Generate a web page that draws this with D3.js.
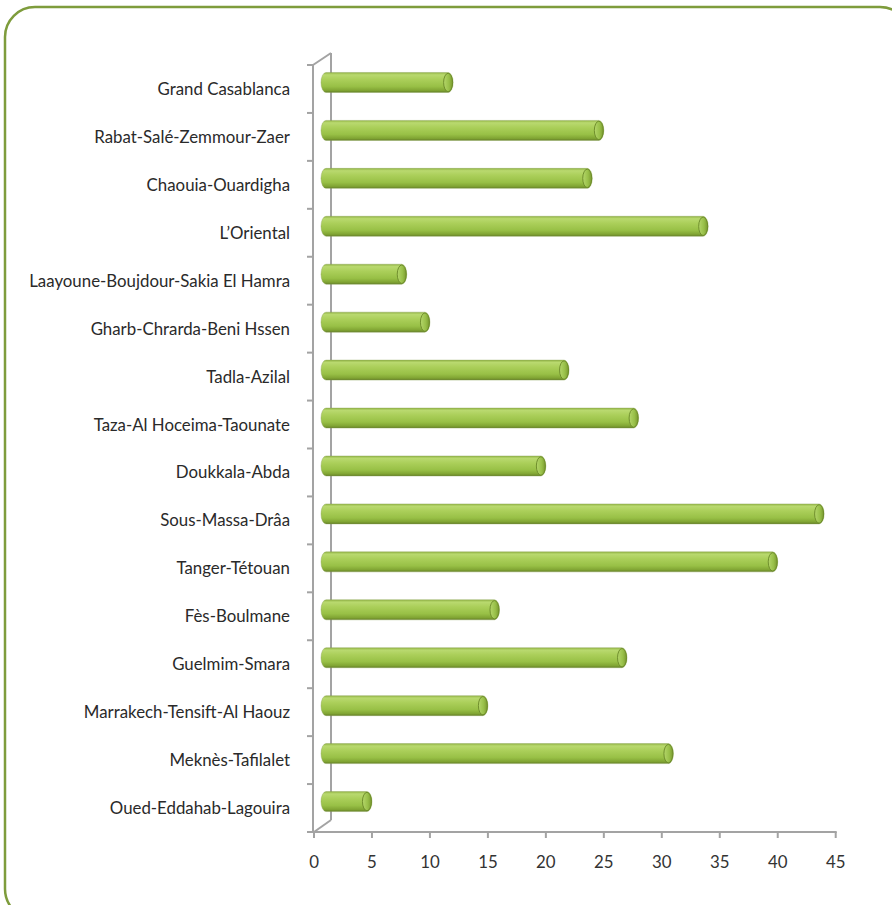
<!DOCTYPE html>
<html><head><meta charset="utf-8">
<script src="https://cdn.jsdelivr.net/npm/d3@7/dist/d3.min.js"></script>
<style>html,body{margin:0;padding:0;background:#fff;}svg{display:block;}</style>
</head><body>
<svg id="chart" width="892" height="905"></svg>
<script>
const categories = ["Grand Casablanca","Rabat-Salé-Zemmour-Zaer","Chaouia-Ouardigha","L’Oriental","Laayoune-Boujdour-Sakia El Hamra","Gharb-Chrarda-Beni Hssen","Tadla-Azilal","Taza-Al Hoceima-Taounate","Doukkala-Abda","Sous-Massa-Drâa","Tanger-Tétouan","Fès-Boulmane","Guelmim-Smara","Marrakech-Tensift-Al Haouz","Meknès-Tafilalet","Oued-Eddahab-Lagouira"];
const values = [12,25,24,34,8,10,22,28,20,44,40,16,27,15,31,5];
const xTicks = [0,5,10,15,20,25,30,35,40,45];

const svg = d3.select("#chart");
const font = "Lato, 'Open Sans', sans-serif";
const axisColor = "#a3a3a3";
const depthX = 17, depthY = -12;

// frame
svg.append("rect").attr("x",5).attr("y",7).attr("width",905).attr("height",912)
  .attr("rx",30).attr("fill","none").attr("stroke","#7e9c3c").attr("stroke-width",2.5);

const x = d3.scaleLinear().domain([0,45]).range([314,835.7]);
const y = d3.scaleBand().domain(categories).range([65,832]).paddingInner(0).paddingOuter(0);

// gradients
const defs = svg.append("defs");
const g1 = defs.append("linearGradient").attr("id","cyl").attr("x1",0).attr("y1",0).attr("x2",0).attr("y2",1);
[[0,"#93b545"],[0.12,"#b9d96f"],[0.35,"#abcf5a"],[0.7,"#98c046"],[0.9,"#80a433"],[1,"#647f27"]]
  .forEach(([o,c])=>g1.append("stop").attr("offset",o).attr("stop-color",c));
const g2 = defs.append("linearGradient").attr("id","cap").attr("x1",0).attr("y1",0).attr("x2",1).attr("y2",0);
[[0,"#b4d66a"],[0.6,"#98bf48"],[1,"#7a9a30"]].forEach(([o,c])=>g2.append("stop").attr("offset",o).attr("stop-color",c));

// axes
const axG = svg.append("g").attr("stroke",axisColor).attr("stroke-width",2).attr("fill","none");
axG.append("line").attr("x1",x(0)+depthX).attr("x2",x(0)+depthX).attr("y1",y.range()[0]+depthY).attr("y2",y.range()[1]+depthY);
axG.append("line").attr("x1",x(0)-1).attr("x2",x(0)+depthX).attr("y1",y.range()[0]).attr("y2",y.range()[0]+depthY);
axG.append("line").attr("x1",x(0)).attr("x2",x(0)+depthX).attr("y1",y.range()[1]).attr("y2",y.range()[1]+depthY);
axG.append("line").attr("x1",x(0)-1).attr("x2",x(0)-1).attr("y1",y.range()[0]).attr("y2",y.range()[1]);
const catTicks = d3.range(categories.length+1).map(i=>y.range()[0]+i*y.step());
axG.selectAll("line.ct").data(catTicks).join("line").attr("class","ct")
  .attr("x1",x(0)-7).attr("x2",x(0)-1).attr("y1",d=>d).attr("y2",d=>d);
axG.append("line").attr("x1",x(0)-1).attr("x2",x(45)+1).attr("y1",y.range()[1]).attr("y2",y.range()[1]);
axG.selectAll("line.xt").data(xTicks).join("line").attr("class","xt")
  .attr("x1",d=>x(d)).attr("x2",d=>x(d)).attr("y1",y.range()[1]).attr("y2",y.range()[1]+6);

// category labels (condensed to mimic the reference typeface)
const fsz = 17.5;
const lab = svg.append("g").selectAll("text").data(categories).join("text")
  .attr("text-anchor","end")
  .attr("font-family",font).attr("font-size",fsz).attr("fill","#2a2a2a").text(d=>d);
let maxW = 0; lab.each(function(){maxW=Math.max(maxW,this.getComputedTextLength());});
const sx = 261/maxW;
lab.attr("transform",d=>`translate(290,${y(d)+y.bandwidth()/2+6}) scale(${sx},1)`);

// x tick labels
svg.append("g").selectAll("text").data(xTicks).join("text")
  .attr("transform",d=>`translate(${x(d)},${y.range()[1]+36}) scale(${sx},1)`)
  .attr("text-anchor","middle")
  .attr("font-family",font).attr("font-size",fsz).attr("fill","#333").text(d=>d);

// bars (cylinders)
const bh = 20;
const bars = svg.append("g").selectAll("g").data(categories.map((c,i)=>({c,v:values[i]}))).join("g");
bars.each(function(d){
  const g = d3.select(this);
  const cy = y(d.c)+y.bandwidth()/2 - 6.5;
  const x0 = x(0)+7, x1 = x(d.v);
  const r = 5;
  g.append("path")
    .attr("d",`M${x0+r},${cy-bh/2} L${x1-r},${cy-bh/2} A${r},${bh/2} 0 0 1 ${x1-r},${cy+bh/2} L${x0+r},${cy+bh/2} A${r},${bh/2} 0 0 1 ${x0+r},${cy-bh/2} Z`)
    .attr("fill","url(#cyl)").attr("stroke","#8aa354").attr("stroke-opacity",0.5).attr("stroke-width",0.8);
  g.append("ellipse").attr("cx",x1-r).attr("cy",cy).attr("rx",r-0.5).attr("ry",bh/2-0.8)
    .attr("fill","url(#cap)").attr("stroke","#6a8828").attr("stroke-width",0.9);
});
</script>
</body></html>
